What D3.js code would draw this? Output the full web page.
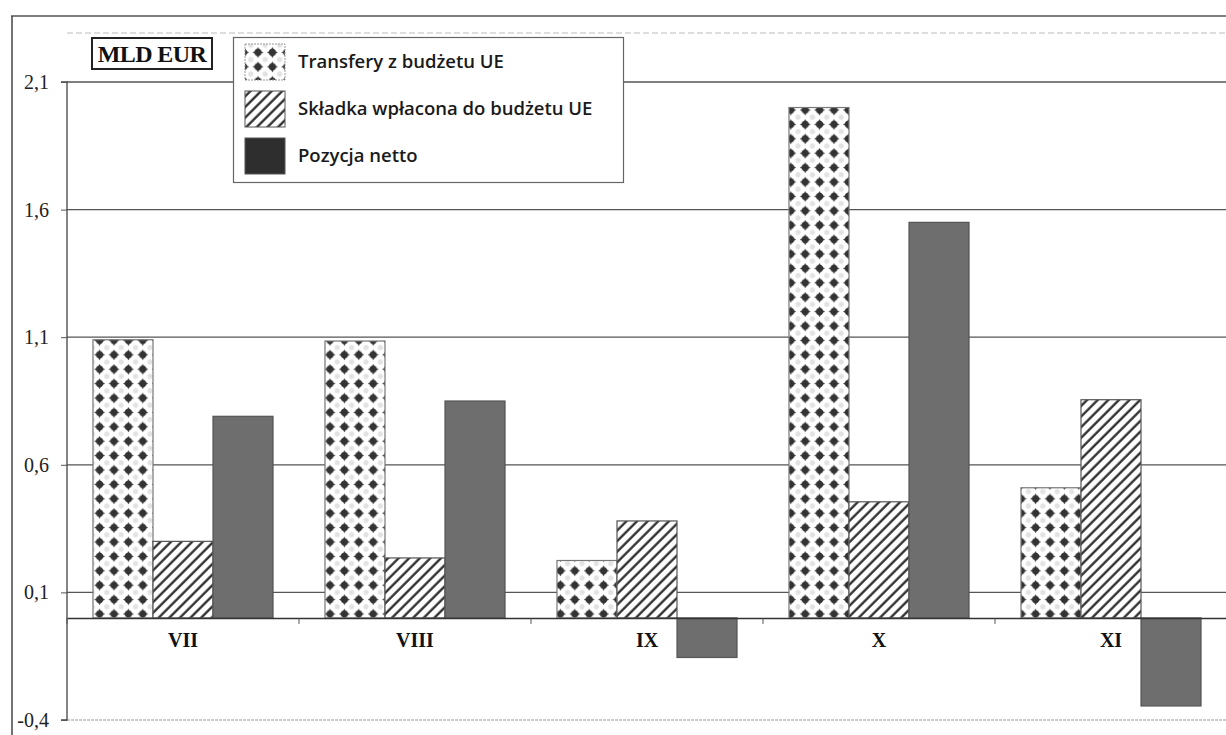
<!DOCTYPE html>
<html><head><meta charset="utf-8">
<script src="https://cdn.jsdelivr.net/npm/d3@7"></script>
<style>body{margin:0;background:#fff}svg{display:block}</style>
</head><body>
<svg id="c" width="1226" height="735"></svg>
<script>
const categories = ["VII","VIII","IX","X","XI"];
const seriesNames = ["Transfery z budżetu UE","Składka wpłacona do budżetu UE","Pozycja netto"];
const transfery = [1.09, 1.085, 0.225, 2.0, 0.51];
const skladka   = [0.30, 0.235, 0.38, 0.455, 0.855];
const netto     = [0.79, 0.85, -0.155, 1.55, -0.345];
const yTicks = [-0.4, 0.1, 0.6, 1.1, 1.6, 2.1];
const unitLabel = "MLD EUR";

(function(){
const series = [transfery, skladka, netto];
const svg = d3.select("#c");
const pLeft = 67, pRight = 1227, pTop = 82, pBottom = 720;
const serif = "Liberation Serif, Times New Roman, serif";

const defs = svg.append("defs");
const pd = defs.append("pattern").attr("id","dots").attr("patternUnits","userSpaceOnUse")
  .attr("width",14.4).attr("height",14.4).attr("x",6).attr("y",2);
pd.append("rect").attr("width",14.4).attr("height",14.4).attr("fill","#fff");
[[0,0],[14.4,0],[0,14.4],[14.4,14.4]].forEach(p=>pd.append("circle").attr("cx",p[0]).attr("cy",p[1]).attr("r",2.6).attr("fill","#e2e2e2"));
pd.append("path").attr("d","M7.2,1.8 L9.2,5.2 L12.6,7.2 L9.2,9.2 L7.2,12.6 L5.2,9.2 L1.8,7.2 L5.2,5.2 Z").attr("fill","#3a3a3a");
pd.append("circle").attr("cx",7.2).attr("cy",7.2).attr("r",3.5).attr("fill","#333");

const ph = defs.append("pattern").attr("id","hatch").attr("patternUnits","userSpaceOnUse")
  .attr("width",7.5).attr("height",10).attr("patternTransform","rotate(45)");
ph.append("rect").attr("width",7.5).attr("height",10).attr("fill","#fff");
ph.append("line").attr("x1",1.5).attr("x2",1.5).attr("y1",0).attr("y2",10).attr("stroke","#222").attr("stroke-width",2.2);

const fills = ["url(#dots)","url(#hatch)","#6e6e6e"];
const strokes = ["#777","#555","#555"];

const y = d3.scaleLinear().domain([-0.4, 2.1]).range([pBottom, pTop]);
const x0 = d3.scaleBand().domain(categories).range([pLeft, pRight]).paddingInner(0.224).paddingOuter(0.112);
const x1 = d3.scaleBand().domain(d3.range(3)).range([0, x0.bandwidth()]);

svg.append("line").attr("x1",11).attr("x2",1226).attr("y1",16).attr("y2",16).attr("stroke","#555").attr("stroke-width",1.5);
svg.append("line").attr("x1",12).attr("x2",12).attr("y1",16).attr("y2",735).attr("stroke","#444").attr("stroke-width",1.5);
svg.append("line").attr("x1",pLeft).attr("x2",1226).attr("y1",33).attr("y2",33).attr("stroke","#bbb").attr("stroke-dasharray","6,3");

svg.append("g").selectAll("line").data(yTicks).join("line")
  .attr("x1",pLeft).attr("x2",1226).attr("y1",d=>y(d)).attr("y2",d=>y(d))
  .attr("stroke",d=>d===-0.4?"#999":"#555").attr("stroke-width",d=>d===-0.4?1:1.3)
  .attr("stroke-dasharray",d=>d===-0.4?"3,1":null);

const yAxis = d3.axisLeft(y).tickValues(yTicks).tickSize(6).tickFormat(d=>d3.format(".1f")(d).replace(".",",").replace("−","-"));
const ga = svg.append("g").attr("transform",`translate(${pLeft},0)`).call(yAxis);
ga.select(".domain").attr("stroke","#444").attr("stroke-width",1.3).attr("d",`M-6,${y(2.1)}H0V${y(-0.4)}H-6`);
ga.selectAll(".tick line").attr("stroke","#555");
ga.selectAll(".tick text").attr("font-family",serif).attr("font-size",20).attr("fill","#222").attr("x",-18);

const g = svg.append("g");
categories.forEach((c,i)=>{
  series.forEach((s,j)=>{
    const v = s[i];
    g.append("rect").attr("x",x0(c)+x1(j)).attr("width",x1.bandwidth())
      .attr("y",y(Math.max(0,v))).attr("height",Math.abs(y(v)-y(0)))
      .attr("fill",fills[j]).attr("stroke",strokes[j]).attr("stroke-width",1.2);
  });
});

const xAxis = d3.axisBottom(x0).tickSize(0).tickPadding(15);
const gx = svg.append("g").attr("transform",`translate(0,${y(0)})`).call(xAxis);
gx.select(".domain").attr("stroke","#333").attr("stroke-width",1.5);
gx.selectAll(".tick text").attr("font-family",serif).attr("font-weight","bold").attr("font-size",20).attr("fill","#111");
svg.append("g").selectAll("line").data(d3.range(categories.length+1)).join("line")
  .attr("x1",i=>pLeft+i*x0.step()).attr("x2",i=>pLeft+i*x0.step())
  .attr("y1",y(0)).attr("y2",y(0)+6).attr("stroke","#555");

const ub = svg.append("g");
ub.append("rect").attr("x",92).attr("y",38).attr("width",120).attr("height",31).attr("fill","#fff").attr("stroke","#222").attr("stroke-width",2);
ub.append("text").attr("x",152).attr("y",62).attr("text-anchor","middle")
  .attr("font-family",serif).attr("font-weight","bold").attr("font-size",24).attr("letter-spacing",-0.6).attr("fill","#111").text(unitLabel);

const lg = svg.append("g");
lg.append("rect").attr("x",233.5).attr("y",37.5).attr("width",390).attr("height",145).attr("fill","#fff").attr("stroke","#666").attr("stroke-width",1.2);
const legFills = ["url(#dots)","url(#hatch)","#2e2e2e"];
seriesNames.forEach((n,j)=>{
  const cy = 62 + j*47;
  lg.append("rect").attr("x",245).attr("y",cy-18).attr("width",40).attr("height",36)
    .attr("fill",legFills[j]).attr("stroke",j===0?"#999":"#555").attr("stroke-dasharray",j===0?"2,1":null);
  lg.append("text").attr("x",298).attr("y",cy+6).attr("font-family","Open Sans, Noto Sans, sans-serif")
    .attr("font-size",18.5).attr("font-weight",600).attr("fill","#1a1a1a").text(n);
});
})();
</script>
</body></html>
